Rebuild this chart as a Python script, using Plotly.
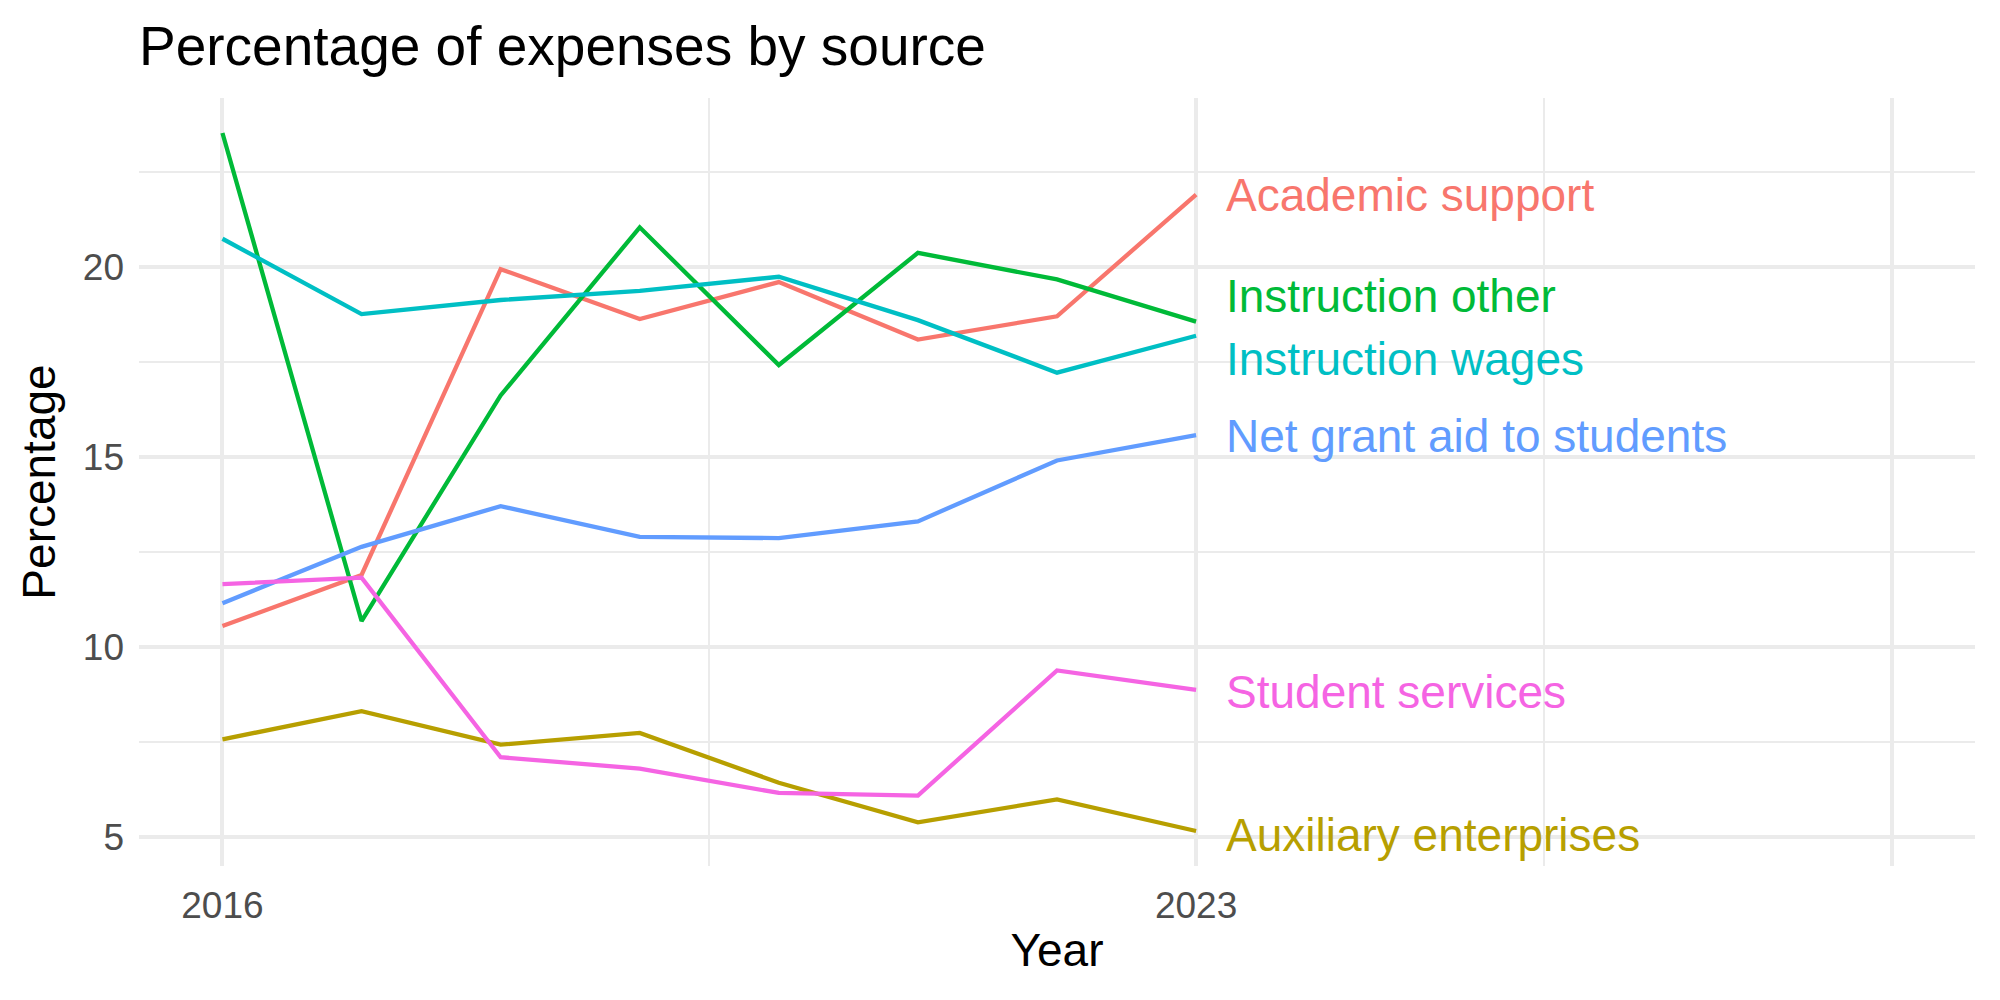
import plotly.graph_objects as go

years = [2016, 2017, 2018, 2019, 2020, 2021, 2022, 2023]

academic_support = [10.56, 11.9, 19.94, 18.63, 19.6, 18.09, 18.7, 21.9]
auxiliary_enterprises = [7.58, 8.32, 7.44, 7.75, 6.44, 5.4, 6.0, 5.17]
instruction_other = [23.52, 10.69, 16.62, 21.04, 17.42, 20.37, 19.67, 18.56]
instruction_wages = [20.74, 18.76, 19.13, 19.37, 19.74, 18.6, 17.22, 18.19]
net_grant_aid = [11.16, 12.64, 13.71, 12.9, 12.87, 13.31, 14.91, 15.58]
student_services = [11.66, 11.83, 7.11, 6.81, 6.17, 6.1, 9.39, 8.88]

series_names = ["Academic support", "Auxiliary enterprises", "Instruction other",
                "Instruction wages", "Net grant aid to students", "Student services"]
series_values = [academic_support, auxiliary_enterprises, instruction_other,
                 instruction_wages, net_grant_aid, student_services]
series_colors = ["#F8766D", "#B79F00", "#00BA38", "#00BFC4", "#619CFF", "#F564E3"]

# repelled label positions (y) at the right end
label_x = 2023.2
label_y = [21.9, 5.07, 19.23, 17.59, 15.55, 8.82]

x_tickvals = [2016, 2023, 2028]
x_ticktext = ["2016", "2023", ""]
x_minor = [2019.5, 2025.5]
y_tickvals = [5, 10, 15, 20]
y_minor = [7.5, 12.5, 17.5, 22.5]

FONT = "Liberation Sans, Arial, Helvetica, sans-serif"

fig = go.Figure()
for name, vals, col in zip(series_names, series_values, series_colors):
    fig.add_trace(go.Scatter(x=years, y=vals, mode="lines", name=name,
                             line=dict(color=col, width=4.3), showlegend=False))

for name, ly, col in zip(series_names, label_y, series_colors):
    fig.add_annotation(x=label_x, y=ly, text=name, showarrow=False,
                       xanchor="left", yanchor="middle",
                       font=dict(family=FONT, size=46, color=col))

fig.update_layout(
    width=2000, height=1000,
    margin=dict(l=139, r=25, t=98, b=134),
    paper_bgcolor="white", plot_bgcolor="white",
    font=dict(family=FONT),
    title=dict(text="Percentage of expenses by source", x=139/2000, xref="container",
               xanchor="left", y=1-46/1000, yref="container", yanchor="middle",
               font=dict(family=FONT, size=55, color="black")),
)
fig.update_xaxes(
    range=[2015.4, 2028.6], tickmode="array", tickvals=x_tickvals, ticktext=x_ticktext,
    showgrid=True, gridcolor="#EBEBEB", gridwidth=4, zeroline=False, showline=False,
    ticks="", ticklabelstandoff=14,
    tickfont=dict(family=FONT, size=37, color="#4D4D4D"),
    minor=dict(tickmode="array", tickvals=x_minor, showgrid=True, gridcolor="#EBEBEB", gridwidth=2),
    title=dict(text="Year", font=dict(family=FONT, size=46, color="black"), standoff=8),
)
fig.update_yaxes(
    range=[4.25, 24.44], tickmode="array", tickvals=y_tickvals,
    showgrid=True, gridcolor="#EBEBEB", gridwidth=4, zeroline=False, showline=False,
    ticks="", ticklabelstandoff=14,
    tickfont=dict(family=FONT, size=37, color="#4D4D4D"),
    minor=dict(tickmode="array", tickvals=y_minor, showgrid=True, gridcolor="#EBEBEB", gridwidth=2),
    title=dict(text="Percentage", font=dict(family=FONT, size=46, color="black"), standoff=12),
)

fig.write_html("out.html")
